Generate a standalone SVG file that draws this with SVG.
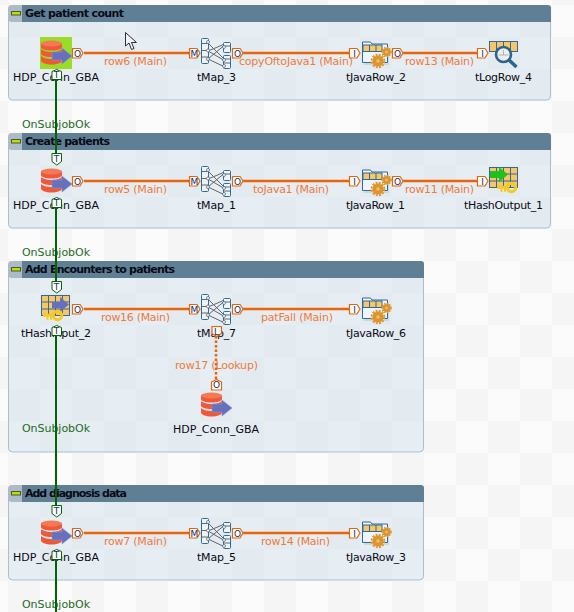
<svg xmlns="http://www.w3.org/2000/svg" width="574" height="612" viewBox="0 0 574 612">
<style>
text{font-family:"DejaVu Sans","Liberation Sans",sans-serif;font-size:11px}
.panel{fill:#d3e2ec;fill-opacity:.5;stroke:#a9bfce;stroke-width:1}
.head{fill:#5f8094}
.corner{fill:#a9bcc8}
.title{font-weight:bold;font-size:11px;fill:#0a0a14}
.lbl{fill:#0a0a14;text-anchor:start}
.row{fill:#ee7a3c}
.ok{fill:#1f6b1f}
.flow{stroke:#e8650a;stroke-width:2.5;fill:none}
.look{stroke:#e8650a;stroke-width:2.5;stroke-dasharray:2.5 2;fill:none}
.trig{stroke:#006400;stroke-width:2;fill:none}
.p{fill:#fff;stroke:#e8650a;stroke-width:1.2}
.pt{fill:#fff;stroke:#006400;stroke-width:1}
.pl{font-size:9px;fill:#1a2a5a;text-anchor:middle}
.tb{fill:#edf4fa;stroke:#2f6a9c;stroke-width:1}
.cell{fill:#f8c667;stroke:#2f6a9c;stroke-width:1}
.gear{fill:none;stroke:#dc952e}
.gf{fill:#dc952e}
.gc{fill:#f0bd6c}
.x{stroke:#5d6770;stroke-width:1;fill:none}
.dot{fill:#fff;stroke:#5d6770;stroke-width:.8}
</style>
<defs>
<pattern id="chk" x="8" y="5" width="64" height="64" patternUnits="userSpaceOnUse">
<rect width="64" height="64" fill="#fbfbfb"/>
<rect width="32" height="32" fill="#f5f5f5"/>
<rect x="32" y="32" width="32" height="32" fill="#f5f5f5"/>
</pattern>
<symbol id="db" width="34" height="34" overflow="visible">
<path d="M0 7v4c0 2 4.500 3.500 10.500 3.500S21 13 21 11V7z M0 13v4.500c0 2 4.500 3.500 10.500 3.500S21 19.500 21 17.500V13c-2 2-6 3-10.500 3S2 15 0 13z M0 20v4.500c0 2 4.500 4 10.500 4s10.500-2 10.500-4V20c-2 2-6 3-10.500 3S2 22 0 20z" fill="#f0583a"/>
<ellipse cx="10.500" cy="7.500" rx="10.500" ry="3" fill="#f47a55"/>
<path d="M11 16h10v-4l10 8-10 8v-4H11z" fill="#6670bf" stroke="#8a90cc" stroke-width=".6"/>
</symbol>
<symbol id="map" width="30" height="32" overflow="visible">
<path class="x" d="M7 5 26 24M7 13 26 5M7 13 26 24M7 21 26 5M7 21 26 30"/>
<rect class="tb" x="0.500" y="0.500" width="7" height="25" rx="1"/>
<path class="x" d="M1 5.500h6M1 12.500h6M1 19h6"/>
<rect class="tb" x="22.500" y="4.500" width="7" height="10" rx="1"/>
<rect class="tb" x="22.500" y="17.500" width="7" height="13" rx="1"/>
<path class="x" d="M23 8h6M23 21h6M23 25h6"/>
<circle class="dot" cx="7" cy="4" r="1.500"/><circle class="dot" cx="7" cy="12.500" r="1.500"/><circle class="dot" cx="7" cy="21" r="1.500"/>
<circle class="dot" cx="23" cy="9" r="1.500"/><circle class="dot" cx="23" cy="22" r="1.500"/><circle class="dot" cx="23" cy="28" r="1.500"/>
</symbol>
<symbol id="java" width="34" height="30" overflow="visible">
<path d="M2 3h10l1 2h14v19H2z" fill="#c5cfd8" opacity=".7"/>
<path class="tb" d="M0.500 1h8l1.500 2h15.500v18.500H0.500z"/>
<rect class="cell" x="1" y="4" width="19" height="6.500"/>
<path d="M7.500 4v6.500M14 4v6.500" stroke="#2f6a9c" stroke-width="1"/>
<circle class="gear" cx="16" cy="20" r="6.300" stroke-width="2" stroke-dasharray="2 1.300"/>
<circle class="gf" cx="16" cy="20" r="5.500"/><circle class="gc" cx="16" cy="20" r="1.800"/>
<circle class="gear" cx="24.500" cy="11" r="4.500" stroke-width="1.600" stroke-dasharray="1.500 1.100"/>
<circle class="gf" cx="24.500" cy="11" r="4"/><circle class="gc" cx="24.500" cy="11" r="1.300"/>
</symbol>
<symbol id="log" width="32" height="30" overflow="visible">
<rect class="cell" x="0.500" y="0.500" width="28" height="10"/>
<path d="M7.500 1v9M14.500 1v9M21.500 1v9" stroke="#2f6a9c"/>
<circle cx="14.500" cy="13.500" r="7.500" fill="#e9eff2" stroke="#2c6390" stroke-width="2.600"/>
<path d="M14.500 9v5M9.500 14h10" stroke="#c9b48a" fill="none"/>
<path d="M20 19 27.500 26" stroke="#2c6390" stroke-width="3.500" fill="none"/>
</symbol>
<symbol id="gridt" width="30" height="24" overflow="visible">
<rect class="cell" x="0.500" y="0.500" width="28" height="20"/>
<path d="M7.500 1v19M14.500 1v19M21.500 1v19M1 7h27M1 14h27" stroke="#2f6a9c"/>
</symbol>
<symbol id="key" width="22" height="12" overflow="visible">
<circle cx="14.500" cy="5.500" r="4.200" fill="none" stroke="#f4cb1e" stroke-width="3"/>
<path d="M0 3.800h11v3h-2v3h-2v-3h-1.500v3h-2v-3h-3.500z" fill="#f4cb1e"/>
</symbol>
<symbol id="pr" width="12" height="12" overflow="visible"><path class="p" d="M0.500 0.500h7.500l3 4.500-3 5H0.500z"/></symbol>
<symbol id="pd" width="12" height="13" overflow="visible"><path class="pt" d="M1 0.500h9.500v8l-4.750 3.500L1 8.500z"/></symbol>
<symbol id="pu" width="12" height="13" overflow="visible"><path class="pt" d="M5.750 0.500 10.500 2.500v8H1v-8z"/></symbol>
<symbol id="po" width="12" height="13" overflow="visible"><path class="p" d="M5.500 0.500 10.500 3v8H0.500V3z"/></symbol>
<symbol id="pq" width="12" height="13" overflow="visible"><path class="p" d="M1 0.500 10.500 0.500v7l-4.750 3-4.750-3z"/></symbol>
</defs>

<rect width="574" height="612" fill="url(#chk)"/>

<g id="subjob-1"><rect class="panel" x="8.500" y="5.500" width="542" height="94.500" rx="4"/><path class="head" d="M22 5h526q3 0 3 3v14H22z"/><path class="corner" d="M8 9q0-4 4-4h10v17H12q-4 0-4-4z"/><rect x="11.500" y="11.500" width="9" height="3.500" fill="#c4dc00" stroke="#4a5a30"/><text class="title" x="25" y="17" textLength="99">Get patient count</text></g>
<g id="subjob-2"><rect class="panel" x="8.500" y="133.500" width="542" height="94.500" rx="4"/><path class="head" d="M22 133h526q3 0 3 3v14H22z"/><path class="corner" d="M8 137q0-4 4-4h10v17H12q-4 0-4-4z"/><rect x="11.500" y="139.500" width="9" height="3.500" fill="#c4dc00" stroke="#4a5a30"/><text class="title" x="25" y="145" textLength="85">Create patients</text></g>
<g id="subjob-3"><rect class="panel" x="8.500" y="261.500" width="415" height="190.500" rx="4"/><path class="head" d="M22 261h399q3 0 3 3v14H22z"/><path class="corner" d="M8 265q0-4 4-4h10v17H12q-4 0-4-4z"/><rect x="11.500" y="267.500" width="9" height="3.500" fill="#c4dc00" stroke="#4a5a30"/><text class="title" x="25" y="273" textLength="150">Add Encounters to patients</text></g>
<g id="subjob-4"><rect class="panel" x="8.500" y="485.500" width="415" height="94.500" rx="4"/><path class="head" d="M22 485h399q3 0 3 3v14H22z"/><path class="corner" d="M8 489q0-4 4-4h10v17H12q-4 0-4-4z"/><rect x="11.500" y="491.500" width="9" height="3.500" fill="#c4dc00" stroke="#4a5a30"/><text class="title" x="25" y="497" textLength="102">Add diagnosis data</text></g>

<g id="n-HDP_Conn_GBA-1"><rect x="40" y="37" width="32" height="32" fill="#9bdc28"/><use href="#db" x="41" y="36"/><text class="lbl" x="13" y="81" textLength="86">HDP_Conn_GBA</text></g>
<g id="n-tMap_3"><use href="#map" x="201" y="38"/><text class="lbl" x="197" y="81" textLength="39">tMap_3</text></g>
<g id="n-tJavaRow_2"><use href="#java" x="362" y="41"/><text class="lbl" x="346" y="81" textLength="60">tJavaRow_2</text></g>
<g id="n-tLogRow_4"><use href="#log" x="489" y="41"/><text class="lbl" x="475" y="81" textLength="57">tLogRow_4</text></g>

<g id="n-HDP_Conn_GBA-2"><use href="#db" x="41" y="164"/><text class="lbl" x="13" y="209" textLength="86">HDP_Conn_GBA</text></g>
<g id="n-tMap_1"><use href="#map" x="201" y="166"/><text class="lbl" x="197" y="209" textLength="39">tMap_1</text></g>
<g id="n-tJavaRow_1"><use href="#java" x="362" y="169"/><text class="lbl" x="346" y="209" textLength="59">tJavaRow_1</text></g>
<g id="n-tHashOutput_1"><use href="#gridt" x="489" y="167"/><path d="M490 171h9v-4l9 7.500-9 7.500v-4h-9z" fill="#1fc01f"/><use href="#key" x="497" y="182"/><text class="lbl" x="464" y="209" textLength="79">tHashOutput_1</text></g>

<g id="n-tHashInput_2"><use href="#gridt" x="41" y="295"/><path d="M52 302h8v-5l9 7.500-9 7.500v-4h-8z" fill="#6670bf"/><use href="#key" x="43" y="310"/><text class="lbl" x="21" y="337" textLength="70">tHashInput_2</text></g>
<g id="n-tMap_7"><use href="#map" x="201" y="294"/><text class="lbl" x="197" y="337" textLength="39">tMap_7</text></g>
<g id="n-tJavaRow_6"><use href="#java" x="362" y="297"/><text class="lbl" x="346" y="337" textLength="60">tJavaRow_6</text></g>
<g id="n-HDP_Conn_GBA-3"><use href="#db" x="201" y="388"/><text class="lbl" x="173" y="433" textLength="86">HDP_Conn_GBA</text></g>

<g id="n-HDP_Conn_GBA-4"><use href="#db" x="41" y="516"/><text class="lbl" x="13" y="561" textLength="86">HDP_Conn_GBA</text></g>
<g id="n-tMap_5"><use href="#map" x="201" y="518"/><text class="lbl" x="197" y="561" textLength="39">tMap_5</text></g>
<g id="n-tJavaRow_3"><use href="#java" x="362" y="521"/><text class="lbl" x="346" y="561" textLength="60">tJavaRow_3</text></g>

<g id="connectors">
<path class="flow" d="M84 53H189M243 53H349M403 53H477"/>
<path class="flow" d="M84 181H189M243 181H349M403 181H477"/>
<path class="flow" d="M84 309H189M243 309H349"/>
<path class="flow" d="M84 533H189M243 533H349"/>
<text class="row" x="104" y="65" textLength="63">row6 (Main)</text>
<text class="row" x="239" y="65" textLength="114">copyOftoJava1 (Main)</text>
<text class="row" x="405" y="65" textLength="69">row13 (Main)</text>
<text class="row" x="104" y="193" textLength="63">row5 (Main)</text>
<text class="row" x="253" y="193" textLength="76">toJava1 (Main)</text>
<text class="row" x="405" y="193" textLength="69">row11 (Main)</text>
<text class="row" x="101" y="321" textLength="69">row16 (Main)</text>
<text class="row" x="261" y="321" textLength="72">patFall (Main)</text>
<text class="row" x="175" y="369" textLength="83">row17 (Lookup)</text>
<text class="row" x="104" y="545" textLength="63">row7 (Main)</text>
<text class="row" x="261" y="545" textLength="69">row14 (Main)</text>
<text class="ok" x="22" y="128" textLength="68">OnSubjobOk</text>
<text class="ok" x="22" y="256" textLength="68">OnSubjobOk</text>
<text class="ok" x="22" y="432" textLength="68">OnSubjobOk</text>
<text class="ok" x="22" y="608" textLength="68">OnSubjobOk</text>
<path class="look" d="M216 336V379"/>
<path class="trig" d="M56 80V153M56 208V281M56 336V505M56 560V612"/>
</g>

<g id="ports">
<use href="#pr" x="72" y="48"/><text class="pl" x="77.500" y="56.500">O</text>
<use href="#pr" x="189" y="48"/><text class="pl" x="194.500" y="56.500">M</text>
<use href="#pr" x="232" y="48"/><text class="pl" x="237.500" y="56.500">O</text>
<use href="#pr" x="349" y="48"/><text class="pl" x="354.500" y="56.500">I</text>
<use href="#pr" x="392" y="48"/><text class="pl" x="397.500" y="56.500">O</text>
<use href="#pr" x="477" y="48"/><text class="pl" x="482.500" y="56.500">I</text>
<use href="#pr" x="72" y="176"/><text class="pl" x="77.500" y="184.500">O</text>
<use href="#pr" x="189" y="176"/><text class="pl" x="194.500" y="184.500">M</text>
<use href="#pr" x="232" y="176"/><text class="pl" x="237.500" y="184.500">O</text>
<use href="#pr" x="349" y="176"/><text class="pl" x="354.500" y="184.500">I</text>
<use href="#pr" x="392" y="176"/><text class="pl" x="397.500" y="184.500">O</text>
<use href="#pr" x="477" y="176"/><text class="pl" x="482.500" y="184.500">I</text>
<use href="#pr" x="72" y="304"/><text class="pl" x="77.500" y="312.500">O</text>
<use href="#pr" x="189" y="304"/><text class="pl" x="194.500" y="312.500">M</text>
<use href="#pr" x="232" y="304"/><text class="pl" x="237.500" y="312.500">O</text>
<use href="#pr" x="349" y="304"/><text class="pl" x="354.500" y="312.500">I</text>
<use href="#pr" x="72" y="528"/><text class="pl" x="77.500" y="536.500">O</text>
<use href="#pr" x="189" y="528"/><text class="pl" x="194.500" y="536.500">M</text>
<use href="#pr" x="232" y="528"/><text class="pl" x="237.500" y="536.500">O</text>
<use href="#pr" x="349" y="528"/><text class="pl" x="354.500" y="536.500">I</text>
<use href="#po" x="211" y="379"/><text class="pl" x="216.500" y="388">O</text>
<use href="#pq" x="211" y="326"/><text class="pl" x="216.500" y="334.500">L</text>
<use href="#pu" x="51" y="69"/><text class="pl" x="56.500" y="78">T</text>
<use href="#pd" x="51" y="153"/><text class="pl" x="56.500" y="162">T</text>
<use href="#pu" x="51" y="197"/><text class="pl" x="56.500" y="206">T</text>
<use href="#pd" x="51" y="281"/><text class="pl" x="56.500" y="290">T</text>
<use href="#pu" x="51" y="325"/><text class="pl" x="56.500" y="334">T</text>
<use href="#pd" x="51" y="505"/><text class="pl" x="56.500" y="514">T</text>
<use href="#pu" x="51" y="549"/><text class="pl" x="56.500" y="558">T</text>
</g>

<path id="cursor" d="M125.500 32.500V46l3.500-3 2.500 6.500 2.500-1-2.500-6h5z" fill="#f2f4f6" stroke="#2a2f38" stroke-width="1"/>
</svg>
